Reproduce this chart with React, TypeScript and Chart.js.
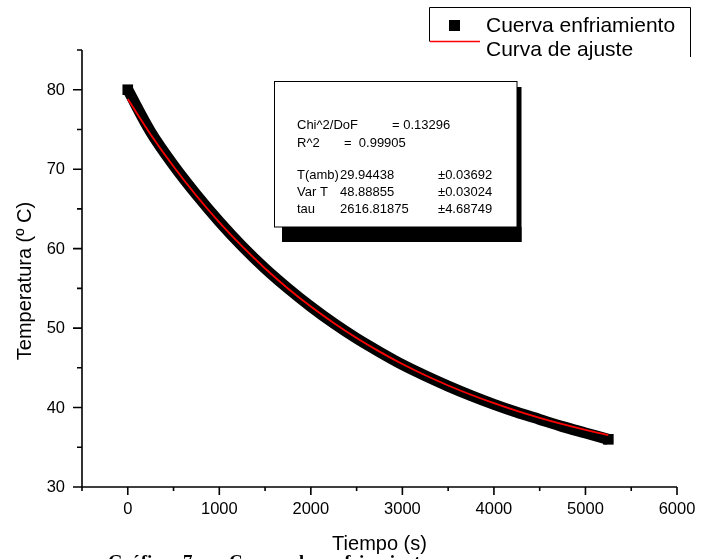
import React, { useEffect, useRef } from 'react';
import { Chart, registerables } from 'chart.js';

Chart.register(...registerables);

// ---- data ----
const times = [0, 250, 500, 750, 1000, 1250, 1500, 1750, 2000, 2250, 2500, 2750, 3000, 3250, 3500, 3750, 4000, 4250, 4500, 4750, 5000, 5250];
const measured = [80.0, 74.7, 70.5, 66.8, 63.4, 60.3, 57.5, 55.0, 52.7, 50.6, 48.7, 47.0, 45.4, 44.0, 42.7, 41.5, 40.4, 39.4, 38.5, 37.6, 36.8, 36.0];
const fitted = [78.83, 74.38, 70.33, 66.65, 63.31, 60.27, 57.5, 54.99, 52.71, 50.64, 48.75, 47.04, 45.48, 44.06, 42.78, 41.61, 40.55, 39.58, 38.7, 37.9, 37.18, 36.52];
const xMajor = [0, 1000, 2000, 3000, 4000, 5000, 6000];
const xMinor = [-500, 500, 1500, 2500, 3500, 4500, 5500];
const yMajor = [30, 40, 50, 60, 70, 80];
const yMinor = [35, 45, 55, 65, 75, 85];
const seriesNames = ['Cuerva enfriamiento', 'Curva de ajuste'];
const statsHeader = [
  ['Chi^2/DoF', '= 0.13296'],
  ['R^2', '=  0.99905'],
];
const statsParams = ['T(amb)', 'Var T', 'tau'];
const statsValues = ['29.94438', '48.88855', '2616.81875'];
const statsErrors = ['\u00b10.03692', '\u00b10.03024', '\u00b14.68749'];
const xTitle = 'Tiempo (s)';
const yTitle = 'Temperatura (\u00ba C)';
const caption = 'Gr\u00e1fica 7.-  Curva de enfriamiento';

const SANS = '"Liberation Sans", Arial, sans-serif';

const axesPlugin = {
  id: 'originAxes',
  afterDraw(chart: any) {
    const ctx = chart.ctx;
    const xs = chart.scales.x;
    const ys = chart.scales.y;
    const left = chart.chartArea.left;
    const bottom = chart.chartArea.bottom;
    const top = chart.chartArea.top;
    const right = chart.chartArea.right;
    ctx.save();
    ctx.strokeStyle = '#000';
    ctx.lineWidth = 1.6;
    ctx.lineCap = 'butt';
    // axis lines
    ctx.beginPath();
    ctx.moveTo(left, top);
    ctx.lineTo(left, bottom);
    ctx.moveTo(left, bottom);
    ctx.lineTo(right, bottom);
    ctx.stroke();
    // ticks
    ctx.beginPath();
    yMajor.forEach((v) => {
      const y = ys.getPixelForValue(v);
      ctx.moveTo(left, y);
      ctx.lineTo(left - 9, y);
    });
    yMinor.forEach((v) => {
      const y = ys.getPixelForValue(v);
      ctx.moveTo(left, y);
      ctx.lineTo(left - 5, y);
    });
    xMajor.forEach((v) => {
      const x = xs.getPixelForValue(v);
      ctx.moveTo(x, bottom);
      ctx.lineTo(x, bottom + 8);
    });
    xMinor.forEach((v) => {
      const x = xs.getPixelForValue(v);
      ctx.moveTo(x, bottom);
      ctx.lineTo(x, bottom + 4);
    });
    ctx.stroke();
    // tick labels
    ctx.fillStyle = '#000';
    ctx.font = `16.5px ${SANS}`;
    ctx.textAlign = 'right';
    ctx.textBaseline = 'middle';
    yMajor.forEach((v) => {
      ctx.fillText(String(v), left - 17, ys.getPixelForValue(v) + 0.5);
    });
    ctx.textAlign = 'center';
    xMajor.forEach((v) => {
      ctx.fillText(String(v), xs.getPixelForValue(v), bottom + 22);
    });
    // titles
    ctx.font = `20px ${SANS}`;
    ctx.fillText(xTitle, (left + right) / 2, bottom + 57);
    ctx.save();
    ctx.translate(25, 281);
    ctx.rotate(-Math.PI / 2);
    ctx.fillText(yTitle, 0, 0);
    ctx.restore();

    // stats box with shadow
    ctx.fillStyle = '#000';
    ctx.fillRect(517, 87, 4.5, 155);
    ctx.fillRect(282, 227, 239.5, 15);
    ctx.fillStyle = '#fff';
    ctx.fillRect(274, 81, 243, 146);
    ctx.lineWidth = 1;
    ctx.strokeStyle = '#000';
    ctx.strokeRect(274.5, 81.5, 242.5, 145.5);
    ctx.fillStyle = '#000';
    ctx.font = `13px ${SANS}`;
    ctx.textAlign = 'left';
    ctx.textBaseline = 'middle';
    ctx.fillText(statsHeader[0][0], 297, 125);
    ctx.fillText(statsHeader[0][1], 392, 125);
    ctx.fillText(statsHeader[1][0], 297, 143);
    ctx.fillText(statsHeader[1][1], 344, 143);
    const rowsY = [175, 192, 209];
    statsParams.forEach((p, i) => {
      ctx.fillText(p, 297, rowsY[i]);
      ctx.fillText(statsValues[i], 340, rowsY[i]);
      ctx.fillText(statsErrors[i], 438, rowsY[i]);
    });

    // legend
    ctx.lineWidth = 1;
    ctx.beginPath();
    ctx.moveTo(429.5, 41.5);
    ctx.lineTo(429.5, 7.5);
    ctx.lineTo(690.5, 7.5);
    ctx.lineTo(690.5, 57);
    ctx.stroke();
    ctx.fillStyle = '#000';
    ctx.fillRect(449, 20, 11, 11);
    ctx.font = `21px ${SANS}`;
    ctx.fillText(seriesNames[0], 486, 26);
    ctx.fillText(seriesNames[1], 486, 50);
    ctx.strokeStyle = '#ff0000';
    ctx.lineWidth = 1.5;
    ctx.beginPath();
    ctx.moveTo(430, 41.5);
    ctx.lineTo(480, 41.5);
    ctx.stroke();
    ctx.restore();
  },
};

export default function App() {
  const canvasRef = useRef<HTMLCanvasElement | null>(null);

  useEffect(() => {
    const canvas = canvasRef.current;
    if (!canvas) return;
    const chart = new Chart(canvas, {
      type: 'line',
      data: {
        datasets: [
          {
            label: seriesNames[0],
            data: times.map((t, i) => ({ x: t, y: measured[i] })),
            borderColor: '#000',
            backgroundColor: '#000',
            borderWidth: 11,
            cubicInterpolationMode: 'monotone',
            pointStyle: 'rect',
            pointRadius: (c: any) => (c.dataIndex === 0 || c.dataIndex === times.length - 1 ? 7.5 : 0),
            pointBorderWidth: 0,
            borderCapStyle: 'butt',
            order: 2,
          },
          {
            label: seriesNames[1],
            data: times.map((t, i) => ({ x: t, y: fitted[i] })),
            borderColor: '#ff0000',
            borderWidth: 1.8,
            cubicInterpolationMode: 'monotone',
            pointRadius: 0,
            order: 1,
          },
        ],
      },
      options: {
        responsive: false,
        animation: false,
        devicePixelRatio: 1,
        layout: { padding: { left: 82, top: 50, right: 36, bottom: 72 } },
        plugins: { legend: { display: false }, tooltip: { enabled: false } },
        scales: {
          x: { type: 'linear', min: -500, max: 6000, display: false },
          y: { type: 'linear', min: 30, max: 85, display: false },
        },
      },
      plugins: [axesPlugin],
    } as any);
    return () => chart.destroy();
  }, []);

  return (
    <div style={{ position: 'fixed', left: 0, top: 0, width: 713, height: 559, overflow: 'hidden', background: '#fff' }}>
      <canvas ref={canvasRef} width={713} height={559} style={{ display: 'block' }} />
      <div
        style={{
          position: 'absolute',
          left: 108,
          top: 551,
          fontFamily: '"Liberation Serif", "Times New Roman", serif',
          fontSize: 19,
          fontWeight: 'bold',
          whiteSpace: 'pre',
          wordSpacing: 8,
          color: '#000',
        }}
      >
        {caption}
      </div>
    </div>
  );
}
